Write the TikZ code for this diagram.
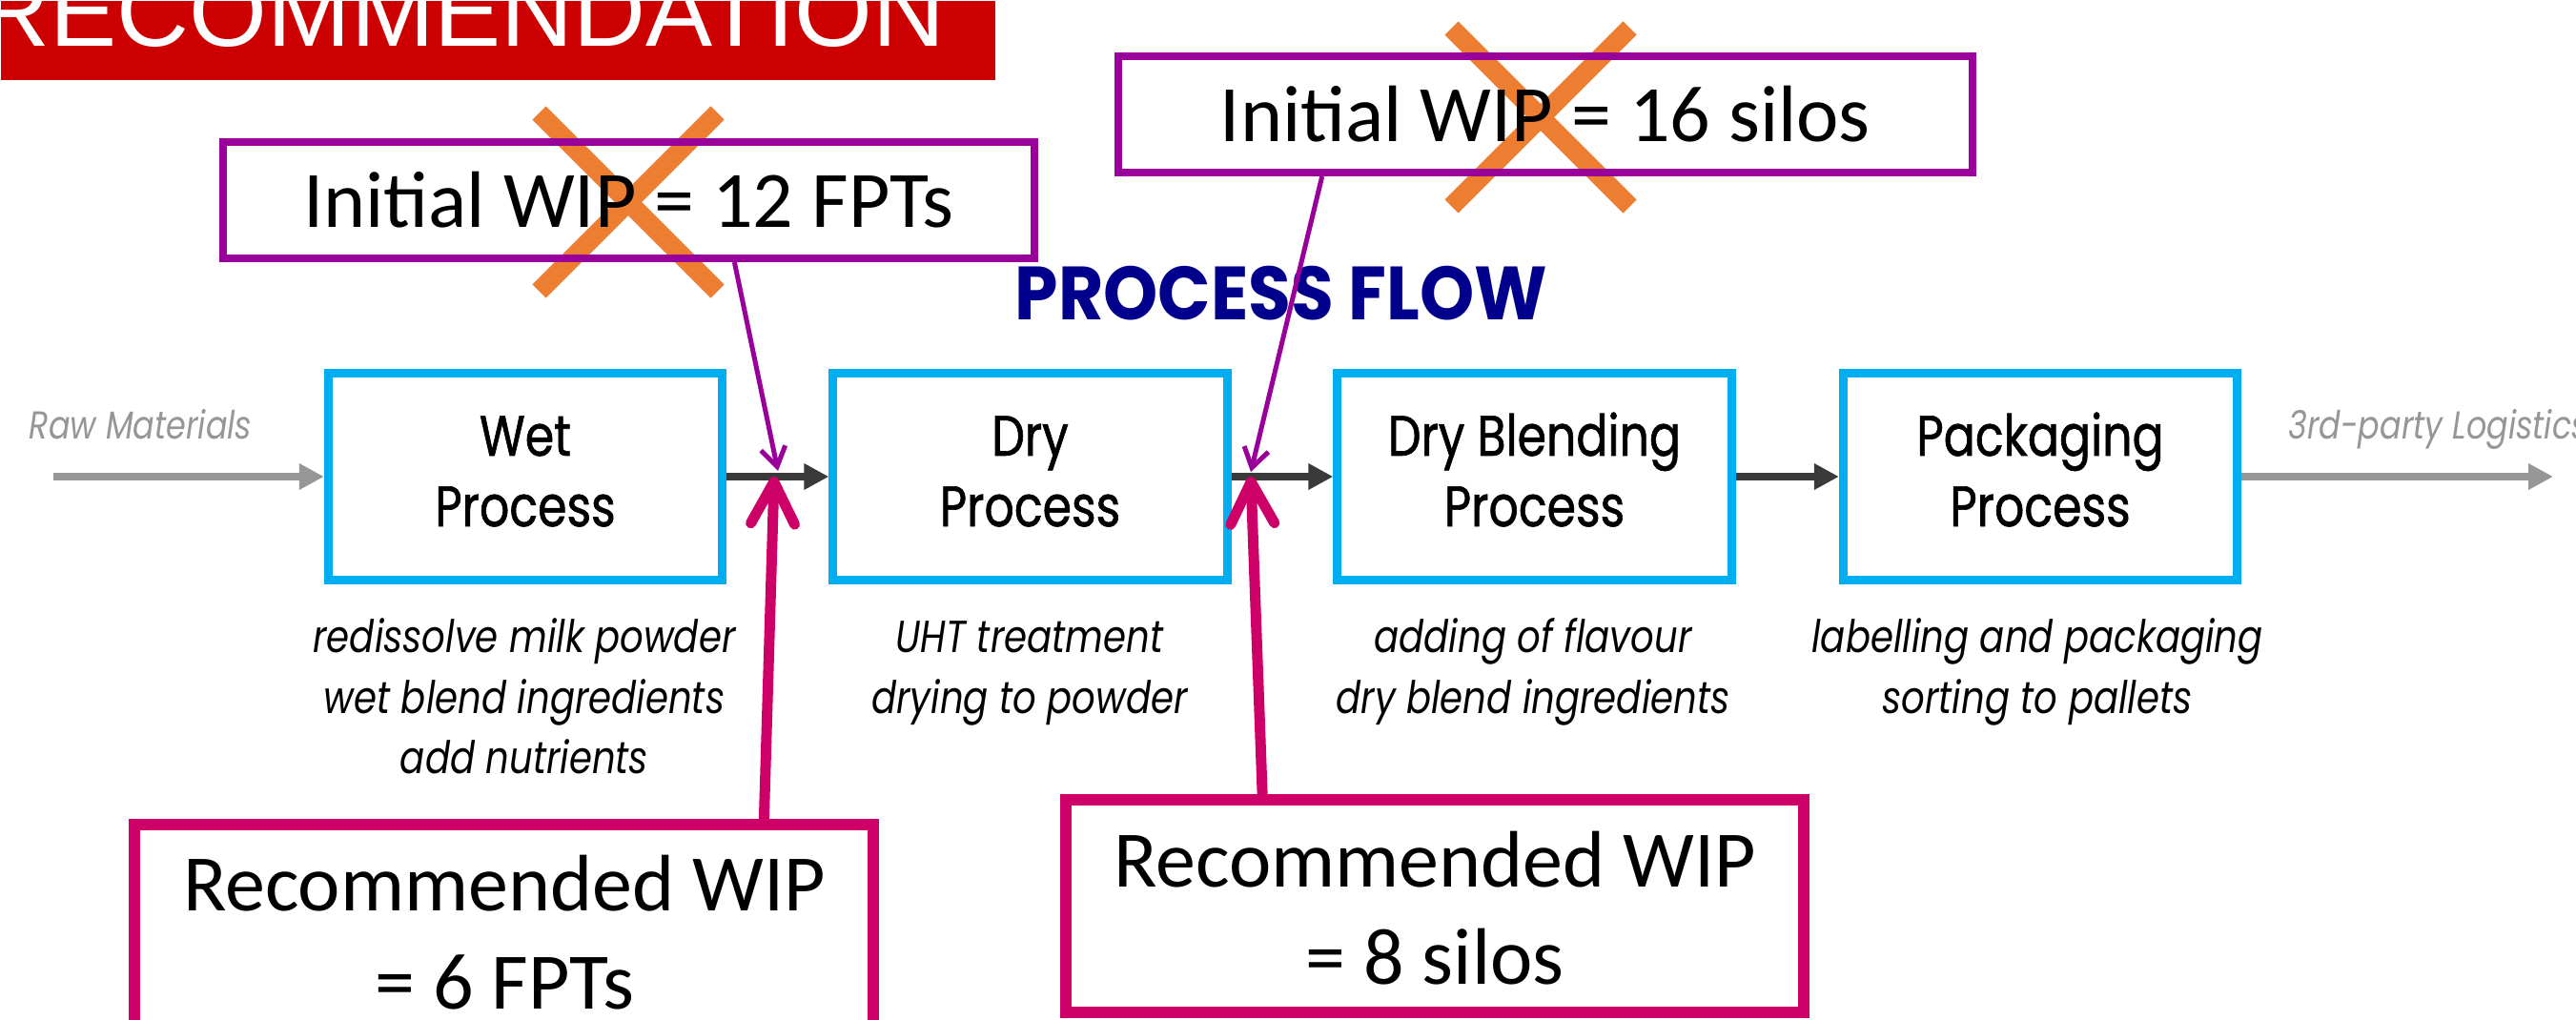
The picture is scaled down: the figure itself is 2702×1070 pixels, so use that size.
\documentclass[tikz,border=0pt]{standalone}
\usepackage{fontspec}
\usetikzlibrary{arrows.meta,calc}
\setmainfont{Poppins}
\newfontfamily\pfont{Poppins}[FakeStretch=0.82]
\newfontfamily\lfont{Poppins}[FakeStretch=0.82, FakeBold=1]
\newfontfamily\tfont{Poppins}[FakeStretch=0.92]
\newfontfamily\cfont{Carlito}
\newfontfamily\afont{Liberation Sans}
\definecolor{bannerred}{RGB}{204,0,0}
\definecolor{procblue}{RGB}{0,174,239}
\definecolor{initpurple}{RGB}{153,0,153}
\definecolor{recpink}{RGB}{204,0,102}
\definecolor{xorange}{RGB}{237,125,49}
\definecolor{navy}{RGB}{0,0,140}
\definecolor{darkarrow}{RGB}{58,58,58}
\definecolor{lightarrow}{RGB}{150,150,150}
\tikzset{
  procbox/.style={draw=procblue, line width=0.09cm, minimum width=4.13cm, minimum height=2.16cm, inner sep=0pt},
  initbox/.style={draw=initpurple, line width=0.08cm, minimum height=1.22cm, inner sep=0pt, font=\cfont\fontsize{23.9}{28}\selectfont},
  recbox/.style={draw=recpink, line width=0.12cm, minimum width=7.74cm, minimum height=2.23cm, inner sep=0pt},
  boxlabel/.style={anchor=base, inner sep=0pt, font=\lfont\fontsize{17}{20}\selectfont},
  desc/.style={anchor=base, inner sep=0pt, font=\pfont\itshape\fontsize{13.4}{16}\selectfont},
  endlabel/.style={anchor=base west, inner sep=0pt, text=lightarrow, font=\pfont\itshape\fontsize{11.6}{14}\selectfont},
  rectext/.style={anchor=base, inner sep=0pt, font=\cfont\fontsize{23.9}{28}\selectfont},
  flow/.style={draw=darkarrow, line width=0.07cm, -{Triangle[length=0.26cm,width=0.26cm]}},
  flowext/.style={flow, draw=lightarrow},
  initarrow/.style={draw=initpurple, line width=0.05cm, -{Straight Barb[length=0.2cm,width=0.26cm]}},
  recarrow/.style={draw=recpink, line width=0.11cm, -{Straight Barb[length=0.44cm,width=0.46cm,round]}},
  cross/.style={draw=xorange, line width=0.2cm},
}
\begin{document}
\begin{tikzpicture}[x=0.01cm, y=-0.01cm]
\useasboundingbox (0,0) rectangle (2702,1070);
\clip (0,0) rectangle (2702,1070);
\fill[white] (0,0) rectangle (2702,1070);

% banner
\node[fill=bannerred, anchor=north west, minimum width=10.43cm, minimum height=0.83cm, inner sep=0pt] (banner) at (0,0) {};
\node[anchor=base west, inner sep=0pt, text=white, font=\afont\fontsize{29.9}{34}\selectfont] (bannertext) at (-24,49) {RECOMMENDATION};

% orange crosses
\coordinate (x1) at (659,212);
\coordinate (x2) at (1616,123);
\draw[cross] ($(x1)+(-93.5,-93.5)$) -- ($(x1)+(93.5,93.5)$);
\draw[cross] ($(x1)+(93.5,-93.5)$) -- ($(x1)+(-93.5,93.5)$);
\draw[cross] ($(x2)+(-93.5,-93.5)$) -- ($(x2)+(93.5,93.5)$);
\draw[cross] ($(x2)+(93.5,-93.5)$) -- ($(x2)+(-93.5,93.5)$);

% initial WIP boxes
\node[initbox, minimum width=8.51cm] (init1) at (659.5,210) {Initial WIP = 12 FPTs};
\node[initbox, minimum width=8.96cm] (init2) at (1621,120) {Initial WIP = 16 silos};

% title
\node[anchor=base, inner sep=0pt, text=navy, font=\tfont\bfseries\fontsize{22.5}{26}\selectfont] (title) at (1344,335) {PROCESS FLOW};

% process boxes
\node[procbox] (wet) at (551,500) {};
\node[procbox] (dry) at (1080.5,500) {};
\node[procbox] (blend) at (1609.5,500) {};
\node[procbox] (pack) at (2140,500) {};

\node[boxlabel] (wetA) at (551,478) {Wet};
\node[boxlabel] (wetB) at (551,552) {Process};
\node[boxlabel] (dryA) at (1080.5,478) {Dry};
\node[boxlabel] (dryB) at (1080.5,552) {Process};
\node[boxlabel] (blendA) at (1609.5,478) {Dry Blending};
\node[boxlabel] (blendB) at (1609.5,552) {Process};
\node[boxlabel] (packA) at (2140,478) {Packaging};
\node[boxlabel] (packB) at (2140,552) {Process};

% descriptions
\node[desc] (d1a) at (550,684) {redissolve milk powder};
\node[desc] (d1b) at (550,748) {wet blend ingredients};
\node[desc] (d1c) at (550,811) {add nutrients};
\node[desc] (d2a) at (1080,684) {UHT treatment};
\node[desc] (d2b) at (1080,748) {drying to powder};
\node[desc] (d3a) at (1608,684) {adding of flavour};
\node[desc] (d3b) at (1608,748) {dry blend ingredients};
\node[desc] (d4a) at (2137,684) {labelling and packaging};
\node[desc] (d4b) at (2137,748) {sorting to pallets};

% end labels
\node[endlabel] (raw) at (30,460) {Raw Materials};
\node[endlabel] (logi) at (2400,460) {3rd-party Logistics};

% flow arrows
\coordinate (rawstart) at (56,500);
\coordinate (logend) at (2678,500);
\draw[flowext] (rawstart) -- (wet.west);
\draw[flow] (wet.east) -- (dry.west);
\draw[flow] (dry.east) -- (blend.west);
\draw[flow] (blend.east) -- (pack.west);
\draw[flowext] (pack.east) -- (logend);

% junction points
\coordinate (j1) at (812,500);
\coordinate (j2) at (1312,500);
\coordinate (i1tip) at (816,494);
\coordinate (i2tip) at (1312,495);

% purple arrows
\draw[initarrow] ($(init1.south west)!0.629!(init1.south east)$) -- (i1tip);
\draw[initarrow] ($(init2.south west)!0.241!(init2.south east)$) -- (i2tip);

% recommended boxes
\node[recbox] (rec1) at (528.5,976.5) {};
\node[recbox] (rec2) at (1505,950.5) {};
\node[rectext] (rec1a) at (529,955) {Recommended WIP};
\node[rectext] (rec1b) at (529,1058) {= 6 FPTs};
\node[rectext] (rec2a) at (1505,930) {Recommended WIP};
\node[rectext] (rec2b) at (1505,1032) {= 8 silos};

% pink arrows
\draw[recarrow] ($(rec1.north west)!0.847!(rec1.north east)$) -- (j1);
\draw[recarrow] ($(rec2.north west)!0.27!(rec2.north east)$) -- (j2);
\end{tikzpicture}
\end{document}
